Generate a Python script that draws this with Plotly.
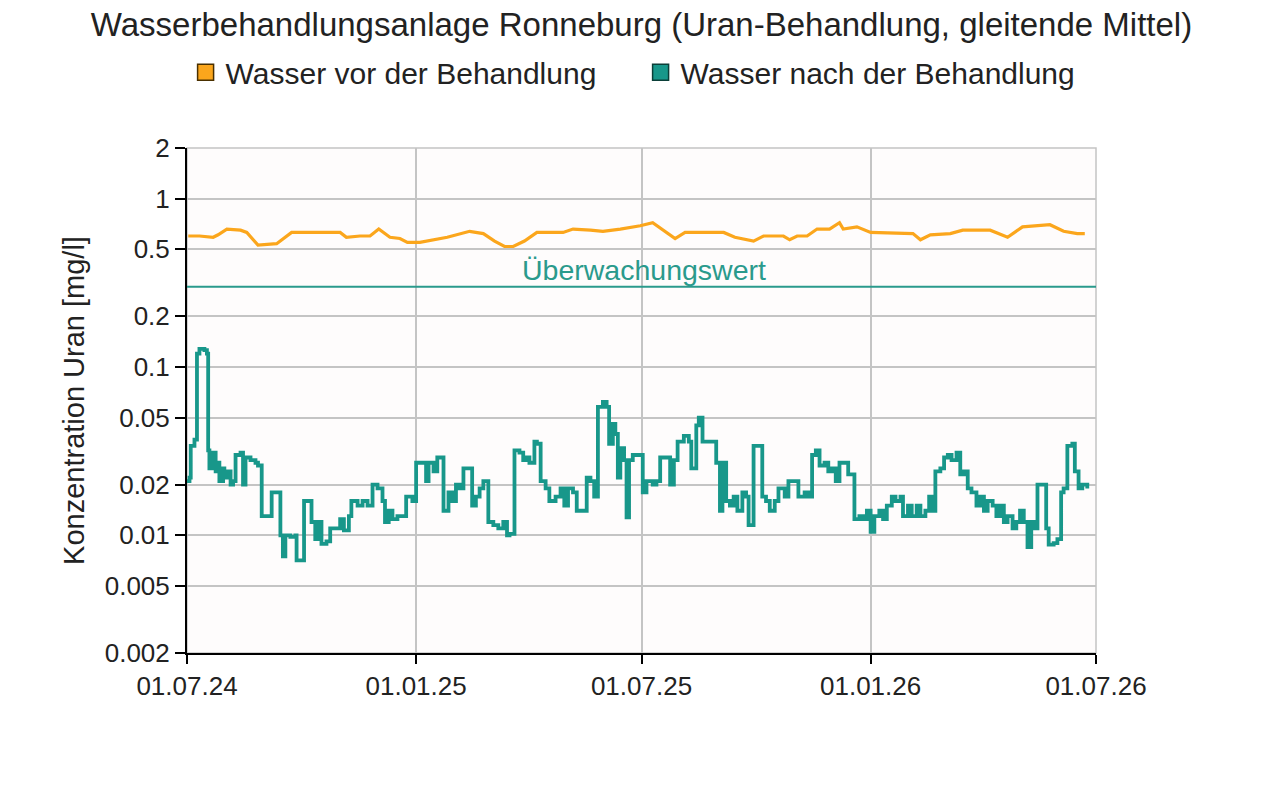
import math
import pandas as pd
import plotly.graph_objects as go

# ---------------- data ----------------
start_date = "2024-07-01"

# water after treatment (gleitende Mittel), days since 01.07.24 and mg/l
nach_tage = [0, 2, 3, 6, 8, 10, 14, 16, 17, 18, 20, 22, 23, 25, 26, 29, 30, 33, 35, 37,
             39, 43, 45, 47, 51, 55, 57, 60, 64, 68, 72, 75, 77, 79, 83, 87, 88, 92, 94, 98,
             100, 103, 105, 108, 112, 115, 120, 123, 126, 130, 132, 137, 141, 145, 149, 153, 157, 159, 162, 165,
             169, 173, 176, 181, 184, 189, 192, 194, 198, 201, 204, 206, 210, 213, 216, 219, 222, 226, 229, 232,
             235, 238, 241, 242, 246, 250, 254, 257, 259, 263, 267, 270, 273, 275, 279, 281, 284, 288, 291, 296,
             300, 303, 306, 310, 313, 317, 321, 324, 327, 330, 334, 337, 339, 342, 344, 346, 348, 351, 353, 355,
             358, 363, 366, 369, 374, 377, 380, 385, 388, 391, 394, 399, 403, 405, 409, 411, 414, 422, 425, 428,
             430, 433, 436, 439, 442, 446, 449, 451, 455, 459, 462, 465, 468, 472, 475, 480, 483, 488, 491, 496,
             499, 502, 505, 508, 512, 515, 518, 521, 524, 528, 531, 534, 536, 540, 543, 546, 549, 552, 556, 559,
             562, 566, 569, 573, 575, 579, 582, 586, 589, 593, 596, 598, 601, 605, 608, 611, 614, 618, 621, 624,
             627, 630, 634, 637, 640, 643, 647, 650, 653, 656, 659, 663, 666, 669, 672, 675, 678, 681, 683, 688,
             690, 692, 696, 699, 702, 704, 707, 711, 713, 716, 719, 723]
nach_werte = [0.021, 0.022, 0.034, 0.037, 0.12, 0.128, 0.126, 0.12, 0.032, 0.025, 0.031, 0.031, 0.024, 0.027, 0.021, 0.025, 0.022, 0.024, 0.020, 0.021,
              0.030, 0.031, 0.020, 0.029, 0.028, 0.027, 0.026, 0.013, 0.013, 0.018, 0.018, 0.010, 0.0075, 0.010, 0.0098, 0.010, 0.0071, 0.0071, 0.016, 0.016,
              0.012, 0.0095, 0.012, 0.0089, 0.0092, 0.011, 0.011, 0.0125, 0.0107, 0.013, 0.016, 0.015, 0.016, 0.015, 0.020, 0.019, 0.016, 0.012, 0.014, 0.0125,
              0.013, 0.013, 0.017, 0.016, 0.027, 0.027, 0.021, 0.027, 0.024, 0.029, 0.029, 0.014, 0.018, 0.016, 0.020, 0.019, 0.025, 0.025, 0.015, 0.017,
              0.019, 0.021, 0.021, 0.012, 0.0115, 0.011, 0.012, 0.010, 0.0102, 0.032, 0.031, 0.028, 0.029, 0.027, 0.036, 0.035, 0.021, 0.019, 0.016, 0.017,
              0.019, 0.015, 0.019, 0.018, 0.014, 0.014, 0.022, 0.021, 0.017, 0.058, 0.062, 0.058, 0.035, 0.046, 0.040, 0.022, 0.033, 0.028, 0.0128, 0.028,
              0.030, 0.030, 0.018, 0.021, 0.020, 0.021, 0.029, 0.029, 0.020, 0.028, 0.036, 0.039, 0.036, 0.025, 0.045, 0.050, 0.036, 0.036, 0.027, 0.014,
              0.027, 0.016, 0.015, 0.017, 0.014, 0.018, 0.017, 0.0115, 0.034, 0.034, 0.017, 0.016, 0.014, 0.016, 0.019, 0.017, 0.021, 0.021, 0.017, 0.018,
              0.017, 0.030, 0.032, 0.026, 0.027, 0.024, 0.025, 0.021, 0.027, 0.027, 0.023, 0.023, 0.0125, 0.013, 0.0125, 0.014, 0.0105, 0.013, 0.014, 0.0125,
              0.015, 0.017, 0.016, 0.017, 0.013, 0.015, 0.013, 0.015, 0.013, 0.014, 0.017, 0.014, 0.024, 0.025, 0.029, 0.030, 0.028, 0.031, 0.023, 0.024,
              0.019, 0.018, 0.015, 0.017, 0.014, 0.016, 0.015, 0.013, 0.015, 0.012, 0.013, 0.011, 0.012, 0.014, 0.012, 0.0085, 0.012, 0.011, 0.020, 0.020,
              0.011, 0.0088, 0.009, 0.0095, 0.018, 0.019, 0.034, 0.035, 0.024, 0.019, 0.020, 0.019]

# water before treatment
vor_tage = [1, 10, 21, 25, 32, 43, 48, 57, 72, 84, 99, 123, 128, 139, 147, 154, 163, 171, 177, 187,
            209, 227, 238, 247, 255, 262, 271, 281, 302, 310, 324, 334, 348, 364, 374, 392, 400, 431, 440, 455,
            463, 479, 484, 490, 498, 506, 516, 524, 527, 538, 549, 583, 589, 597, 613, 623, 645, 659, 671, 693,
            704, 715, 721]
vor_werte = [0.60, 0.60, 0.59, 0.61, 0.66, 0.65, 0.63, 0.53, 0.54, 0.63, 0.63, 0.63, 0.59, 0.60, 0.60, 0.66, 0.59, 0.58, 0.55, 0.55,
             0.59, 0.64, 0.62, 0.56, 0.52, 0.52, 0.56, 0.63, 0.63, 0.66, 0.65, 0.64, 0.66, 0.69, 0.72, 0.58, 0.63, 0.63, 0.59, 0.56,
             0.60, 0.60, 0.57, 0.60, 0.60, 0.66, 0.66, 0.72, 0.66, 0.68, 0.63, 0.62, 0.57, 0.61, 0.62, 0.65, 0.65, 0.59, 0.68, 0.70,
             0.64, 0.62, 0.62]

ueberwachungswert = 0.3

x_ticks = ["2024-07-01", "2025-01-01", "2025-07-01", "2026-01-01", "2026-07-01"]
x_ticklabels = ["01.07.24", "01.01.25", "01.07.25", "01.01.26", "01.07.26"]
y_ticks = [0.002, 0.005, 0.01, 0.02, 0.05, 0.1, 0.2, 0.5, 1, 2]
y_ticklabels = ["0.002", "0.005", "0.01", "0.02", "0.05", "0.1", "0.2", "0.5", "1", "2"]

title_text = "Wasserbehandlungsanlage Ronneburg (Uran-Behandlung, gleitende Mittel)"
name_vor = "Wasser vor der Behandlung"
name_nach = "Wasser nach der Behandlung"
y_title = "Konzentration Uran [mg/l]"
label_ueberwachung = "Überwachungswert"

# ---------------- figure ----------------
ORANGE = "#FBA61C"
TEAL = "#18978A"
FONT = "Liberation Sans, Arial, sans-serif"
TXT = "#222222"

base = pd.Timestamp(start_date)
vor_x = [base + pd.Timedelta(days=d) for d in vor_tage]
nach_x = [base + pd.Timedelta(days=d) for d in nach_tage]

fig = go.Figure()
fig.add_trace(go.Scatter(x=vor_x, y=vor_werte, mode="lines", showlegend=False,
                         line=dict(color=ORANGE, width=3.2)))
fig.add_trace(go.Scatter(x=nach_x, y=nach_werte, mode="lines", showlegend=False,
                         line=dict(color=TEAL, width=3.8, shape="hv")))
# legend entries with square symbols
fig.add_trace(go.Scatter(x=[None], y=[None], mode="markers", name=name_vor,
                         marker=dict(symbol="square", size=16, color=ORANGE,
                                     line=dict(color="#4a3000", width=1.5))))
fig.add_trace(go.Scatter(x=[None], y=[None], mode="markers", name=name_nach,
                         marker=dict(symbol="square", size=16, color=TEAL,
                                     line=dict(color="#0b3f38", width=1.5))))

fig.add_shape(type="line", xref="paper", x0=0, x1=1, yref="y",
              y0=ueberwachungswert, y1=ueberwachungswert,
              line=dict(color="#2A9A8C", width=2))
fig.add_annotation(x=0.503, xref="paper", y=math.log10(ueberwachungswert), yref="y",
                   text=label_ueberwachung, showarrow=False, yanchor="bottom", yshift=-1,
                   font=dict(family=FONT, size=28.5, color="#2A9A8C"))

fig.update_layout(
    width=1280, height=789,
    margin=dict(l=179, r=192, t=140, b=144),
    paper_bgcolor="white",
    plot_bgcolor="#fefcfc",
    font=dict(family=FONT, color=TXT),
    title=dict(text=title_text, x=0.5, xanchor="center", xref="paper",
               y=1 - 16 / 789, yref="container", yanchor="middle",
               font=dict(family=FONT, size=33, color=TXT)),
    legend=dict(orientation="h", x=0.499, xanchor="center", y=1.150, yanchor="middle",
                font=dict(family=FONT, size=30, color=TXT),
                itemsizing="trace", traceorder="normal", bgcolor="rgba(0,0,0,0)",
                entrywidth=410, entrywidthmode="pixels"),
    showlegend=True,
)

fig.update_xaxes(
    type="date",
    range=[x_ticks[0], x_ticks[-1]],
    tickmode="array", tickvals=x_ticks, ticktext=x_ticklabels,
    tickfont=dict(family=FONT, size=26, color=TXT),
    showgrid=True, gridcolor="#c4c4c4", gridwidth=1.5,
    showline=True, linecolor="black", linewidth=2,
    ticks="outside", ticklen=9, tickwidth=2, tickcolor="black",
    mirror=False, zeroline=False, automargin=False,
)
fig.update_yaxes(
    type="log",
    range=[-2.69897, 0.30103],
    tickmode="array", tickvals=y_ticks, ticktext=y_ticklabels,
    tickfont=dict(family=FONT, size=26, color=TXT),
    showgrid=True, gridcolor="#c4c4c4", gridwidth=1.5,
    showline=True, linecolor="black", linewidth=2,
    ticks="outside", ticklen=10, tickwidth=2, tickcolor="black",
    title=dict(text=y_title, font=dict(family=FONT, size=29, color=TXT), standoff=12),
    zeroline=False, automargin=False,
)
# gray top and right frame
fig.add_shape(type="rect", xref="paper", yref="paper", x0=0, x1=1, y0=0, y1=1,
              line=dict(color="#c4c4c4", width=1.5), layer="below")

fig.write_html("out.html")
